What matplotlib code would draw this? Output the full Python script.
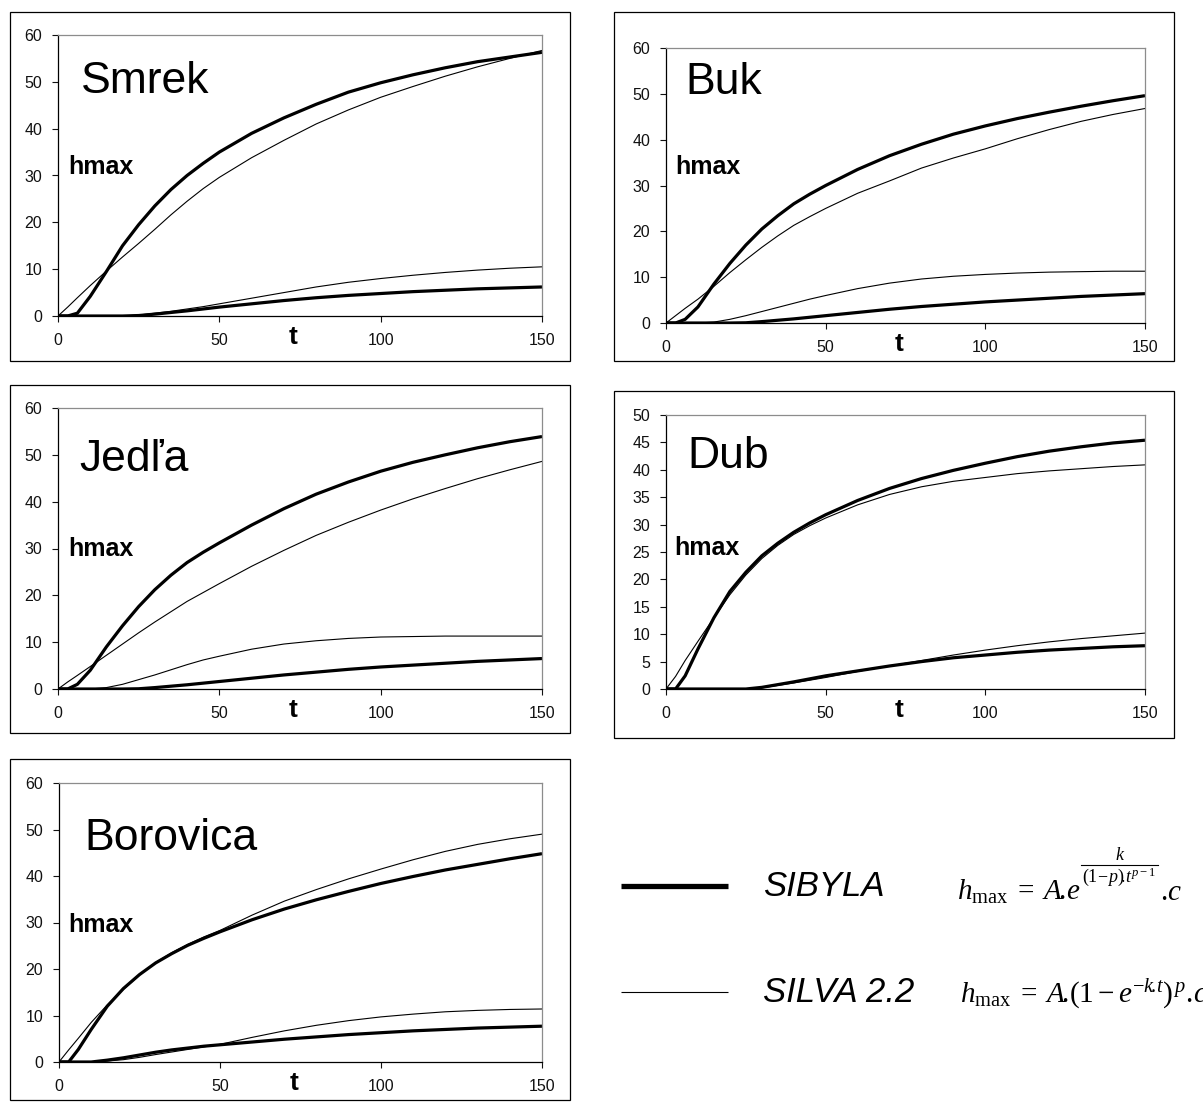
import matplotlib
matplotlib.use("Agg")
import matplotlib.pyplot as plt
from matplotlib.patches import Rectangle
from matplotlib.lines import Line2D

plt.rcParams['font.family'] = ['Liberation Sans', 'DejaVu Sans']
plt.rcParams['mathtext.fontset'] = 'custom'
plt.rcParams['mathtext.rm'] = 'Liberation Serif'
plt.rcParams['mathtext.it'] = 'Liberation Serif:italic'

# ---------------- data ----------------
t = [0, 3, 6, 10, 15, 20, 25, 30, 35, 40, 45, 50, 60, 70, 80, 90, 100, 110, 120, 130, 140, 150]

species = ['Smrek', 'Buk', 'Jedľa', 'Dub', 'Borovica']

smrek_sibyla_up = [0, 0, 0.6, 4.2, 9.5, 15, 19.5, 23.5, 27, 30, 32.6, 35, 39, 42.3, 45.2, 47.8, 49.8, 51.5, 53, 54.3, 55.3, 56.3]
smrek_silva_up = [0, 1.9, 3.9, 6.5, 9.6, 12.6, 15.5, 18.5, 21.6, 24.5, 27.2, 29.6, 33.8, 37.5, 41, 44, 46.7, 49, 51.2, 53.2, 55, 56.7]
smrek_sibyla_lo = [0, 0, 0, 0, 0, 0, 0.1, 0.4, 0.75, 1.1, 1.5, 1.9, 2.6, 3.3, 3.9, 4.4, 4.8, 5.2, 5.5, 5.8, 6.0, 6.2]
smrek_silva_lo = [0, 0, 0, 0, 0, 0, 0.2, 0.6, 1.0, 1.5, 2.0, 2.6, 3.8, 5.0, 6.2, 7.2, 8.0, 8.7, 9.3, 9.8, 10.2, 10.5]

buk_sibyla_up = [0, 0, 0.8, 3.5, 8.5, 13, 17, 20.5, 23.4, 26, 28.1, 30, 33.5, 36.5, 39, 41.2, 43, 44.6, 46, 47.3, 48.5, 49.6]
buk_silva_up = [0, 1.6, 3.2, 5.2, 8, 11, 13.8, 16.5, 19, 21.3, 23.2, 25, 28.3, 31, 33.8, 36, 38, 40.2, 42.2, 44, 45.5, 46.8]
buk_sibyla_lo = [0, 0, 0, 0, 0, 0, 0.05, 0.3, 0.6, 0.9, 1.25, 1.6, 2.3, 3.0, 3.6, 4.1, 4.6, 5.0, 5.4, 5.8, 6.1, 6.4]
buk_silva_lo = [0, 0, 0, 0, 0.2, 0.8, 1.6, 2.5, 3.4, 4.3, 5.2, 6.0, 7.5, 8.7, 9.6, 10.2, 10.6, 10.9, 11.1, 11.2, 11.3, 11.3]

jedla_sibyla_up = [0, 0, 1.0, 4, 9, 13.5, 17.6, 21.2, 24.3, 27, 29.2, 31.2, 35, 38.5, 41.6, 44.2, 46.5, 48.4, 50, 51.5, 52.8, 53.9]
jedla_silva_up = [0, 1.5, 2.9, 4.8, 7.2, 9.6, 12, 14.3, 16.5, 18.7, 20.6, 22.5, 26.2, 29.6, 32.8, 35.6, 38.2, 40.6, 42.8, 44.9, 46.8, 48.6]
jedla_sibyla_lo = [0, 0, 0, 0, 0, 0, 0.05, 0.3, 0.6, 0.9, 1.25, 1.6, 2.3, 3.0, 3.6, 4.2, 4.7, 5.1, 5.5, 5.9, 6.2, 6.5]
jedla_silva_lo = [0, 0, 0, 0, 0.3, 1.0, 2.0, 3.0, 4.1, 5.2, 6.2, 7.0, 8.5, 9.6, 10.3, 10.8, 11.1, 11.2, 11.3, 11.3, 11.3, 11.3]

dub_sibyla_up = [0, 0, 2.4, 7.3, 13, 17.8, 21.3, 24.3, 26.6, 28.6, 30.3, 31.8, 34.4, 36.6, 38.4, 39.9, 41.2, 42.4, 43.4, 44.2, 44.9, 45.4]
dub_silva_up = [0, 2.3, 5.2, 8.7, 13, 17.2, 20.8, 23.8, 26.2, 28.2, 29.8, 31.2, 33.6, 35.5, 36.9, 37.9, 38.6, 39.3, 39.8, 40.2, 40.6, 40.9]
dub_sibyla_lo = [0, 0, 0, 0, 0, 0, 0, 0.3, 0.8, 1.3, 1.85, 2.4, 3.3, 4.2, 5.0, 5.7, 6.2, 6.7, 7.1, 7.4, 7.7, 7.9]
dub_silva_lo = [0, 0, 0, 0, 0, 0, 0, 0.2, 0.65, 1.1, 1.6, 2.1, 3.2, 4.2, 5.2, 6.2, 7.1, 7.9, 8.6, 9.2, 9.7, 10.2]

borovica_sibyla_up = [0, 0, 2.7, 7, 12, 15.8, 18.8, 21.3, 23.3, 25.1, 26.6, 28, 30.6, 32.9, 34.9, 36.7, 38.4, 39.9, 41.3, 42.5, 43.7, 44.8]
borovica_silva_up = [0, 2.6, 5.1, 8.5, 12.3, 15.6, 18.7, 21.4, 23.5, 25.3, 26.9, 28.3, 31.6, 34.6, 37.1, 39.4, 41.5, 43.5, 45.3, 46.8, 48.0, 49.0]
borovica_sibyla_lo = [0, 0, 0, 0, 0.4, 0.9, 1.5, 2.1, 2.6, 3.0, 3.4, 3.7, 4.3, 4.9, 5.4, 5.9, 6.3, 6.7, 7.0, 7.3, 7.5, 7.7]
borovica_silva_lo = [0, 0, 0, 0, 0.2, 0.5, 1.0, 1.6, 2.15, 2.7, 3.25, 3.8, 5.3, 6.7, 7.9, 8.9, 9.7, 10.3, 10.8, 11.1, 11.3, 11.4]

ymax = [60, 60, 60, 50, 60]
ystep = [10, 10, 10, 5, 10]
xticks = [0, 50, 100, 150]

legend_names = ['SIBYLA', 'SILVA 2.2']

series = [
    (smrek_sibyla_up, smrek_silva_up, smrek_sibyla_lo, smrek_silva_lo),
    (buk_sibyla_up, buk_silva_up, buk_sibyla_lo, buk_silva_lo),
    (jedla_sibyla_up, jedla_silva_up, jedla_sibyla_lo, jedla_silva_lo),
    (dub_sibyla_up, dub_silva_up, dub_sibyla_lo, dub_silva_lo),
    (borovica_sibyla_up, borovica_silva_up, borovica_sibyla_lo, borovica_silva_lo),
]

# ---------------- layout (pixels) ----------------
W, H = 1203, 1102
fig = plt.figure(figsize=(W / 100, H / 100), dpi=100)


def fx(px):
    return px / W


def fy(py):
    return 1 - py / H


# box (x0, y0, x1, y1), axes (left, top, right, bottom), title pos, hmax pos
layout = [
    ((9.5, 12, 570, 361), (58, 35, 542, 316), (0.048, 0.833), (0.022, 0.53)),
    ((614, 12, 1174, 361), (666, 48, 1145, 323), (0.040, 0.876), (0.019, 0.567)),
    ((9.5, 385, 570, 733), (58, 408, 542, 689), (0.045, 0.815), (0.022, 0.50)),
    ((614, 391, 1174, 738), (666, 415, 1145, 689), (0.044, 0.847), (0.017, 0.515)),
    ((9.5, 759, 570, 1100), (59, 783, 542, 1062), (0.052, 0.800), (0.020, 0.49)),
]

THICK = 2.3
THIN = 0.8

for name, ser, (box, axp, tpos, hpos), ym, ys in zip(species, series, layout, ymax, ystep):
    x0, y0, x1, y1 = box
    fig.add_artist(Rectangle((fx(x0), fy(y1)), (x1 - x0) / W, (y1 - y0) / H,
                             transform=fig.transFigure, fill=False,
                             edgecolor='black', linewidth=0.9))
    l, tp, r, b = axp
    ax = fig.add_axes([fx(l), fy(b), (r - l) / W, (b - tp) / H])
    sib_up, sil_up, sib_lo, sil_lo = ser
    ax.plot(t, sil_up, color='black', lw=THIN)
    ax.plot(t, sil_lo, color='black', lw=THIN)
    ax.plot(t, sib_up, color='black', lw=THICK, solid_capstyle='butt')
    ax.plot(t, sib_lo, color='black', lw=THICK, solid_capstyle='butt')
    ax.set_xlim(0, 150)
    ax.set_ylim(0, ym)
    ax.set_xticks(xticks)
    ax.set_yticks(list(range(0, ym + 1, ys)))
    ax.tick_params(axis='x', direction='out', length=4, width=0.8, pad=8, labelsize=11.5, colors='#111111')
    ax.tick_params(axis='y', direction='out', length=4.5, width=0.8, pad=7, labelsize=11.5, colors='#111111')
    for s in ('left', 'bottom'):
        ax.spines[s].set_color('black')
        ax.spines[s].set_linewidth(0.9)
    for s in ('top', 'right'):
        ax.spines[s].set_color('#8c8c8c')
        ax.spines[s].set_linewidth(0.9)
    ax.text(tpos[0], tpos[1], name, transform=ax.transAxes, fontsize=32,
            ha='left', va='center')
    ax.text(hpos[0], hpos[1], 'hmax', transform=ax.transAxes, fontsize=18,
            fontweight='bold', ha='left', va='center')
    ax.annotate('t', xy=(73, 0), xycoords=('data', 'axes fraction'),
                xytext=(0, -20), textcoords='offset points',
                ha='center', va='baseline', fontsize=19, fontweight='bold')

# ---------------- legend ----------------
fig.add_artist(Line2D([fx(621), fx(728)], [fy(886), fy(886)], color='black',
                      lw=3.8, solid_capstyle='butt', transform=fig.transFigure))
fig.add_artist(Line2D([fx(621), fx(728)], [fy(992), fy(992)], color='black',
                      lw=0.8, solid_capstyle='butt', transform=fig.transFigure))
fig.text(fx(763), fy(887), legend_names[0], fontsize=25, style='italic', ha='left', va='center')
fig.text(fx(763), fy(992), legend_names[1], fontsize=25, style='italic', ha='left', va='center')

# formula 1 built from pieces: base, fraction exponent, trailing ".c"
renderer = fig.canvas.get_renderer()
base = fig.text(fx(957), fy(900), r'$h_{\mathrm{max}}\;=\;A\!.\!e$', fontsize=21,
                ha='left', va='baseline')
bx1 = base.get_window_extent(renderer).x1  # display px, from left
den = fig.text((bx1 + 2) / W, fy(877), r'$(1\!-\!p)\!.\!t^{p-1}$', fontsize=13,
               ha='left', va='center')
dbb = den.get_window_extent(renderer)
fig.add_artist(Line2D([(bx1 + 1) / W, (dbb.x1 + 1) / W], [fy(865), fy(865)],
                      color='black', lw=0.8, transform=fig.transFigure))
fig.text(((bx1 + dbb.x1) / 2 + 1) / W, fy(855), r'$k$', fontsize=13,
         ha='center', va='center')
fig.text((dbb.x1 + 4) / W, fy(900), r'$\!.\!c$', fontsize=21, ha='left', va='baseline')

fig.text(fx(960), fy(1003), r'$h_{\mathrm{max}}\;=\;A\!.\!(1-e^{-k\!.\!t})^{\,p}\,\!.\!c$',
         fontsize=21, ha='left', va='baseline')

fig.savefig('out.png', dpi=100)
